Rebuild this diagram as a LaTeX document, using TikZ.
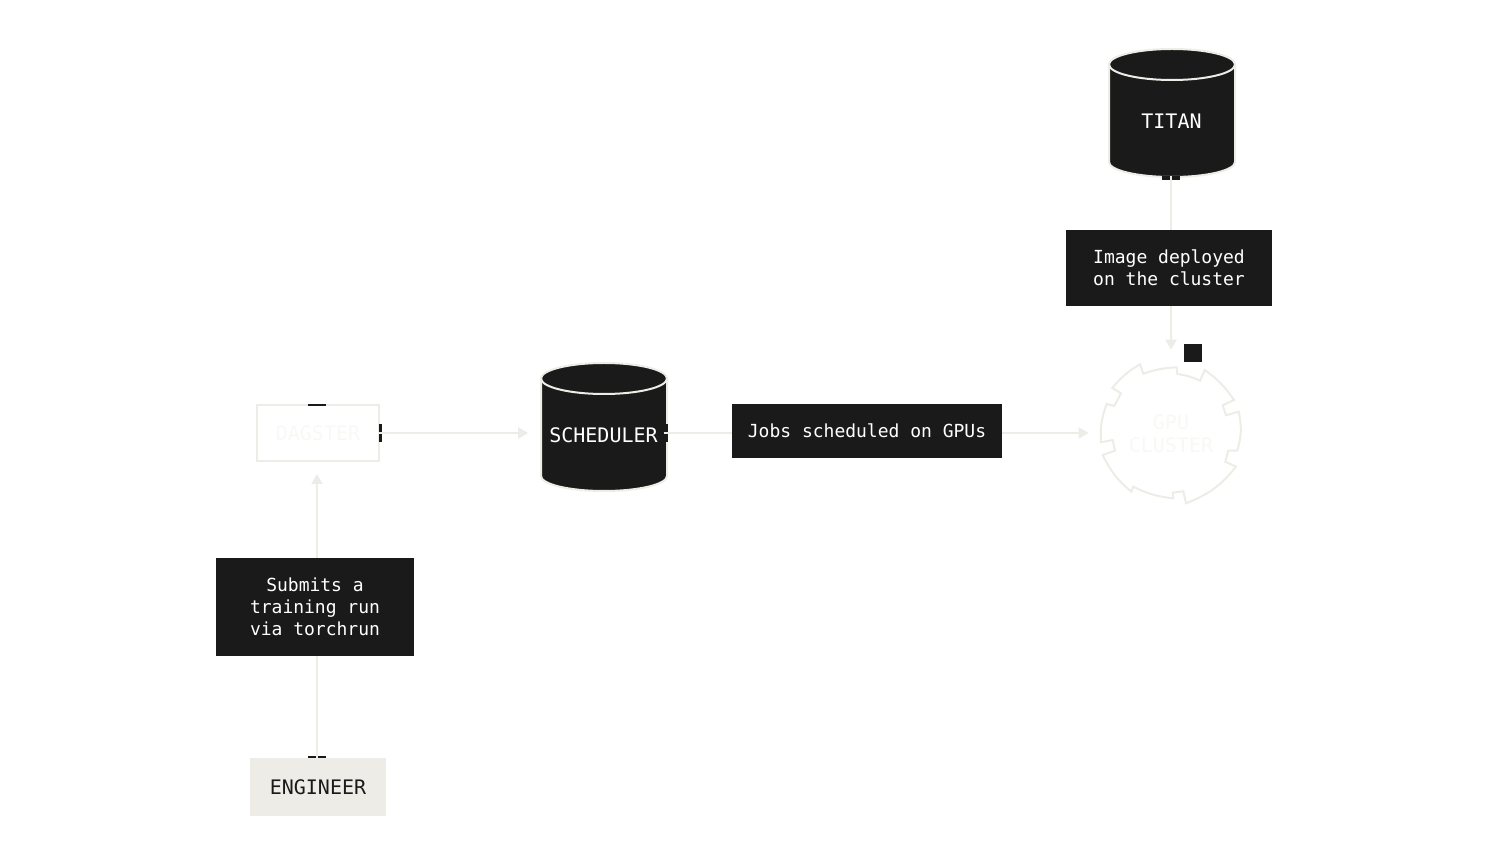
\documentclass[tikz,border=0pt]{standalone}
\usepackage{fontspec}
\setmonofont{DejaVu Sans Mono}
\usetikzlibrary{arrows.meta}
\definecolor{ink}{HTML}{1A1A1A}
\definecolor{bone}{HTML}{EDECE6}
\definecolor{faint}{HTML}{F8F8F4}
\tikzset{
  title/.style={font=\ttfamily\fontsize{11.38}{13}\selectfont},
  label/.style={fill=ink, text=white, align=center, inner sep=0pt,
    font=\ttfamily\fontsize{10.24}{12.52}\selectfont},
  drum/.style={title, text=white, inner sep=0pt, minimum width=2.52cm, minimum height=2.56cm},
  port/.style={fill=ink, inner sep=0pt},
  link/.style={draw=bone, line width=0.04cm}
}
% cylinder outline and lid around a centre point
\newcommand{\drumshape}[2]{
  \draw[link, fill=ink] (#1-63,#2-48.5) arc[start angle=180, end angle=360, x radius=63, y radius=15.5]
    -- (#1+63,#2+49) arc[start angle=0, end angle=180, x radius=63, y radius=15] -- cycle;
  \draw[link] (#1-63,#2-48.5) arc[start angle=180, end angle=0, x radius=63, y radius=15.5];
}
\begin{document}
\begin{tikzpicture}[x=0.02cm, y=-0.02cm, >={Triangle[length=0.2cm,width=0.22cm]}]
  \useasboundingbox (0,0) rectangle (1488,864);

  % Define nodes
  \drumshape{604}{427}
  \drumshape{1172}{113}
  \node[title, fill=bone, text=ink, inner sep=0pt, minimum width=2.72cm, minimum height=1.16cm] (engineer) at (318,787) {ENGINEER};
  \node[title, draw=bone, text=faint, line width=0.04cm, inner sep=0pt, minimum width=2.44cm, minimum height=1.12cm] (dagster) at (318,433) {DAGSTER};
  \node[drum] (scheduler) at (603.5,435) {SCHEDULER};
  \node[drum] (titan) at (1171.5,121) {TITAN};
  \node[title, text=faint, align=center, circle, inner sep=0pt, minimum size=2.8cm] (gpu) at (1171,434) {GPU\\CLUSTER};

  % Ports
  \node[port, minimum width=0.36cm, minimum height=0.04cm] (enginetop) at (317,757) {};
  \node[port, minimum width=0.36cm, minimum height=0.04cm] (dagstertop) at (317,405) {};
  \node[port, minimum width=0.06cm, minimum height=0.36cm] (dagsterright) at (380.5,433) {};
  \node[port, minimum width=0.08cm, minimum height=0.36cm] (schedright) at (666,433) {};
  \node[port, minimum width=0.36cm, minimum height=0.08cm] (titanport) at (1171,178) {};
  \node[port, minimum size=0.36cm] (gpuport) at (1193,353) {};

  % Connectors
  \draw[link, ->, shorten >=0.24cm] (enginetop.south) -- (enginetop.south |- dagster.south);
  \draw[link, ->, shorten >=0.24cm] (dagsterright.west) -- (dagsterright.west -| scheduler.west);
  \draw[link, ->, shorten >=0.24cm] (schedright.west) -- (schedright.west -| gpu.west);
  \draw[link, ->, shorten >=0.28cm] (titanport.north) -- (titanport.north |- gpu.north);

  % Labels over the connectors
  \node[label, minimum width=3.96cm, minimum height=1.96cm] (submits) at (315,607) {Submits a\\training run\\via torchrun};
  \node[label, minimum width=5.4cm, minimum height=1.08cm] (jobs) at (867,431) {Jobs scheduled on GPUs};
  \node[label, minimum width=4.12cm, minimum height=1.52cm] (image) at (1169,268) {Image deployed\\on the cluster};

  % Gear outline
  \draw[link] (1140,364.3) -- (1143.3,373.7) to[bend left=8] (1176.7,367.3) -- (1177.3,374)
    to[bend left=8] (1200,380.7) -- (1204.7,370) to[bend left=10] (1234,400) -- (1222.7,405.3)
    -- (1226,415.3) -- (1238.7,411.7) to[bend left=14] (1237.3,450.7) -- (1228.3,450.7)
    -- (1225.3,461.7) -- (1236,466.7) to[bend left=15] (1186,503.3) -- (1183.3,491.3)
    -- (1172.7,492.7) -- (1173.3,498.3) to[bend left=10] (1133.3,486.7) -- (1131.3,491.7)
    to[bend left=12] (1102.7,455) -- (1115,450.7) -- (1112.7,440) -- (1101,442.3)
    to[bend left=12] (1106.7,404) -- (1114.3,406) -- (1121,393.3) -- (1112.3,388)
    to[bend left=10] cycle;
\end{tikzpicture}
\end{document}
